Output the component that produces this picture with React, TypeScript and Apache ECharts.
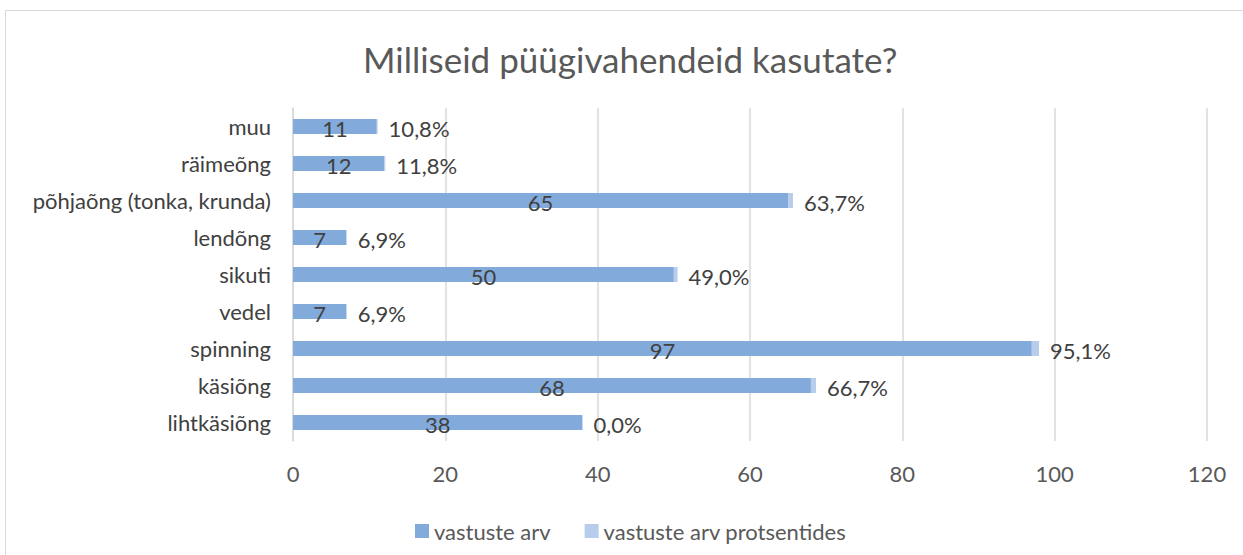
import React, { useEffect, useRef } from "react";
import * as echarts from "echarts";

const categories = [
  "muu",
  "räimeõng",
  "põhjaõng (tonka, krunda)",
  "lendõng",
  "sikuti",
  "vedel",
  "spinning",
  "käsiõng",
  "lihtkäsiõng",
];
const counts = [11, 12, 65, 7, 50, 7, 97, 68, 38];
const percents = [0.108, 0.118, 0.637, 0.069, 0.49, 0.069, 0.951, 0.667, 0.0];
const xTicks = { min: 0, max: 120, interval: 20 };
const titleText = "Milliseid püügivahendeid kasutate?";
const seriesNames = ["vastuste arv", "vastuste arv protsentides"];

const FONT = "Lato";
const FS = 22;

export default function App() {
  const ref = useRef<HTMLDivElement>(null);
  useEffect(() => {
    if (!ref.current) return;
    const chart = echarts.init(ref.current, null, { renderer: "svg" });
    chart.setOption({
      animation: false,
      textStyle: { fontFamily: FONT },
      title: {
        text: titleText,
        left: 358,
        top: 36,
        textStyle: { fontSize: 35, fontWeight: "normal", color: "#595959", fontFamily: FONT },
      },
      graphic: [
        {
          type: "rect",
          shape: { x: 5.5, y: 10.5, width: 1260, height: 580 },
          style: { fill: "none", stroke: "#d9d9d9", lineWidth: 1 },
          silent: true,
        },
      ],
      legend: {
        top: 515,
        left: 410,
        itemWidth: 14,
        itemHeight: 14,
        itemGap: 34,
        icon: "rect",
        textStyle: { fontSize: FS, color: "#595959", fontFamily: FONT },
        data: seriesNames,
      },
      grid: { left: 293, right: 36, top: 108, bottom: 114, containLabel: false },
      xAxis: {
        type: "value",
        min: xTicks.min,
        max: xTicks.max,
        interval: xTicks.interval,
        axisLine: { show: false },
        axisTick: { show: false },
        splitLine: { lineStyle: { color: "#d9d9d9", width: 1.5 } },
        axisLabel: { fontSize: FS, color: "#595959", margin: 21, fontFamily: FONT },
      },
      yAxis: {
        type: "category",
        data: categories,
        inverse: true,
        axisLine: { show: true, lineStyle: { color: "#d9d9d9", width: 1.5 } },
        axisTick: { show: false },
        axisLabel: { fontSize: FS, color: "#404040", margin: 22, fontFamily: FONT },
      },
      series: [
        {
          name: seriesNames[0],
          type: "bar",
          stack: "s",
          data: counts,
          barWidth: 15,
          itemStyle: { color: "#82abdc" },
          label: {
            show: true,
            position: "inside",
            fontSize: FS,
            color: "#404040",
            fontFamily: FONT,
            offset: [0, 2],
          },
        },
        {
          name: seriesNames[1],
          type: "bar",
          stack: "s",
          data: percents,
          barWidth: 15,
          itemStyle: { color: "#b7cdeb" },
          label: {
            show: true,
            position: "right",
            distance: 11,
            fontSize: FS,
            color: "#404040",
            fontFamily: FONT,
            offset: [0, 2],
            formatter: (p: any) => (p.value * 100).toFixed(1).replace(".", ",") + "%",
          },
        },
      ],
    });
    return () => chart.dispose();
  }, []);
  return (
    <div
      ref={ref}
      style={{ position: "fixed", left: 0, top: 0, width: 1243, height: 555, background: "#fff" }}
    />
  );
}
